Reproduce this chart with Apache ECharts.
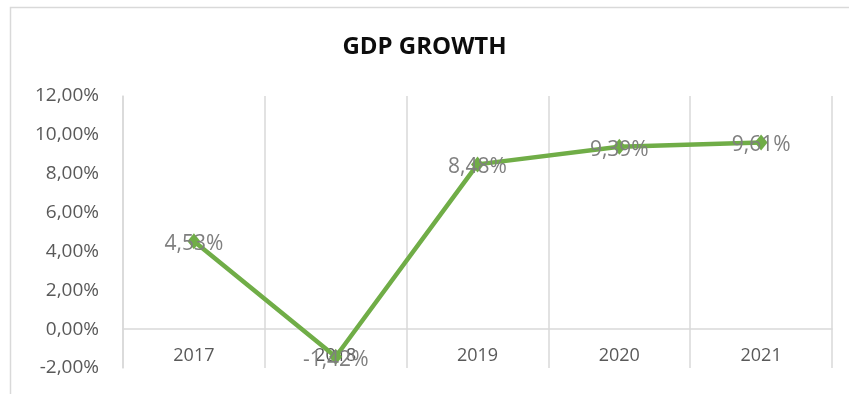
<!DOCTYPE html>
<html>
<head>
<meta charset="utf-8">
<script src="https://cdn.jsdelivr.net/npm/echarts@6/dist/echarts.min.js"></script>
<style>
  html, body { margin: 0; padding: 0; background: #fff; }
  #chart { width: 849px; height: 394px; }
</style>
</head>
<body>
<div id="chart"></div>
<script>
const titleText = 'GDP GROWTH';
const categories = ['2017', '2018', '2019', '2020', '2021'];
const growthValues = [4.53, -1.42, 8.48, 9.39, 9.61];
const yMin = -2, yMax = 12, yStep = 2;

const fmtPct = v => v.toFixed(2).replace('.', ',') + '%';

const chart = echarts.init(document.getElementById('chart'), null, { renderer: 'canvas' });
chart.setOption({
  animation: false,
  backgroundColor: '#ffffff',
  graphic: [{
    type: 'rect',
    shape: { x: 10.5, y: 7.5, width: 900, height: 500 },
    style: { fill: 'none', stroke: '#d9d9d9', lineWidth: 1.5 },
    silent: true, z: -10
  }],
  title: {
    text: titleText,
    left: 'center',
    top: 30,
    textStyle: { fontFamily: 'Open Sans', fontWeight: 'bold', fontSize: 24, color: '#0d0d0d' }
  },
  grid: { left: 123, right: 17, top: 96, bottom: 26, containLabel: false, outerBoundsMode: 'none' },
  xAxis: {
    type: 'category',
    data: categories,
    boundaryGap: true,
    axisLine: { onZero: true, lineStyle: { color: '#d9d9d9', width: 1.5 } },
    axisTick: { show: false },
    axisLabel: { color: '#595959', fontFamily: 'Open Sans', fontSize: 18, margin: -21 },
    splitLine: { show: true, lineStyle: { color: '#d9d9d9', width: 1.5 } }
  },
  yAxis: {
    type: 'value',
    min: yMin, max: yMax, interval: yStep,
    axisLine: { show: true, lineStyle: { color: '#d9d9d9', width: 1.5 } },
    axisTick: { show: false },
    splitLine: { show: false },
    axisLabel: {
      color: '#595959', fontFamily: 'Open Sans', fontSize: 19, margin: 24,
      formatter: v => fmtPct(v)
    }
  },
  series: [{
    type: 'line',
    data: growthValues,
    symbol: 'diamond',
    symbolSize: [13, 16],
    lineStyle: { color: '#70AD47', width: 4.5 },
    itemStyle: { color: '#70AD47' },
    label: {
      show: true,
      position: 'inside',
      offset: [0, 3],
      color: '#7f7f7f',
      fontFamily: 'Open Sans',
      fontSize: 21,
      formatter: p => fmtPct(p.value)
    },
    z: 3
  }]
});
</script>
</body>
</html>
